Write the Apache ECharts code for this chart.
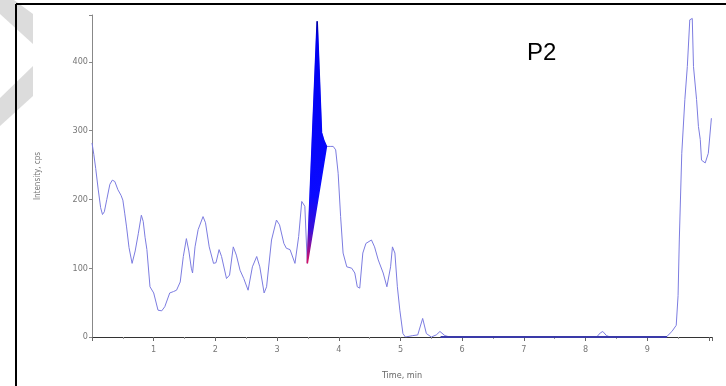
<!DOCTYPE html>
<html>
<head>
<meta charset="utf-8">
<script src="https://cdn.jsdelivr.net/npm/echarts@6/dist/echarts.min.js"></script>
<style>
  html, body { margin: 0; padding: 0; background: #fff; }
  #chart { width: 726px; height: 386px; }
</style>
</head>
<body>
<div id="chart"></div>
<script>
// chromatogram trace (time in min, intensity in cps)
const timeMin = [
  0.00, 0.03, 0.06, 0.10, 0.14, 0.17, 0.20, 0.24, 0.29, 0.33, 0.37, 0.42, 0.47, 0.50,
  0.53, 0.56, 0.60, 0.65, 0.70, 0.75, 0.80, 0.83, 0.86, 0.89, 0.94, 1.00, 1.07, 1.13,
  1.18, 1.26, 1.32, 1.37, 1.43, 1.48, 1.53, 1.57, 1.61, 1.63, 1.67, 1.72, 1.80, 1.84,
  1.90, 1.97, 2.01, 2.06, 2.10, 2.18, 2.23, 2.29, 2.34, 2.40, 2.46, 2.53, 2.60, 2.67,
  2.72, 2.79, 2.83, 2.91, 2.99, 3.04, 3.11, 3.15, 3.21, 3.29, 3.35, 3.40, 3.45, 3.49,
  3.53, 3.57, 3.61, 3.65, 3.68, 3.70, 3.72, 3.76, 3.80, 3.86, 3.91, 3.95, 3.99, 4.03,
  4.07, 4.13, 4.21, 4.26, 4.30, 4.34, 4.39, 4.44, 4.53, 4.58, 4.64, 4.72, 4.78, 4.84,
  4.87, 4.91, 4.95, 4.99, 5.04, 5.08, 5.20, 5.28, 5.36, 5.42, 5.50, 5.58, 5.64, 5.72,
  5.80, 8.18, 8.24, 8.28, 8.34, 8.40, 9.31, 9.40, 9.47, 9.50, 9.52, 9.56, 9.61, 9.65,
  9.69, 9.73, 9.75, 9.80, 9.83, 9.86, 9.88, 9.94, 9.99, 10.04
];
const intensity = [
  282, 265, 245, 215, 188, 178, 182, 200, 222, 228, 226, 214, 206, 199,
  180, 160, 130, 107, 125, 150, 177, 168, 145, 127, 73, 64, 39, 38,
  44, 64, 66, 68, 80, 117, 143, 125, 100, 93, 131, 156, 175, 166,
  131, 107, 108, 127, 117, 85, 90, 131, 119, 97, 85, 68, 102, 117,
  102, 64, 73, 141, 170, 163, 136, 129, 127, 107, 146, 197, 190, 107,
  195, 283, 371, 459, 390, 343, 297, 285, 277, 277, 277, 272, 238, 175,
  122, 102, 100, 93, 73, 71, 122, 136, 141, 131, 112, 93, 73, 102,
  131, 122, 73, 39, 5, 0, 2, 3, 27, 5, 0, 3, 8, 2,
  0, 0, 6, 8, 2, 0, 0, 8, 17, 60, 141, 267, 345, 393,
  461, 463, 393, 345, 306, 287, 257, 253, 267, 318
];

// integrated peak (filled between curve and sloped baseline)
const peakTime = [3.49, 3.53, 3.57, 3.61, 3.65, 3.68, 3.70, 3.72, 3.76, 3.80];
const peakIntensity = [107, 195, 283, 371, 459, 390, 343, 297, 285, 277];

// flat baseline drawn along the axis
const baseTime = [5.65, 9.32];
const baseIntensity = [0, 0];

const yTicks = [0, 100, 200, 300, 400];
const xTicks = [1, 2, 3, 4, 5, 6, 7, 8, 9];

const chart = echarts.init(document.getElementById('chart'));

const labelFont = 'Liberation Sans Narrow, Arial Narrow, DejaVu Sans Condensed, sans-serif';

const peakFill = () => new echarts.graphic.LinearGradient(0, 0, 0, 1, [
  { offset: 0, color: '#00009a' },
  { offset: 0.08, color: '#0000f0' },
  { offset: 0.72, color: '#0a0aff' },
  { offset: 0.86, color: '#3a10d8' },
  { offset: 1, color: '#e0105a' }
]);

chart.setOption({
  animation: false,
  backgroundColor: '#fff',
  grid: { left: 92, top: 15, right: 14, bottom: 49 },
  xAxis: {
    type: 'value',
    min: 0,
    max: 10.05,
    interval: 1,
    name: 'Time, min',
    nameLocation: 'middle',
    nameGap: 34,
    nameTextStyle: { color: '#666', fontSize: 9, fontFamily: labelFont },
    axisLine: { lineStyle: { color: '#333', width: 1 } },
    axisTick: { length: 4, lineStyle: { color: '#666' } },
    minorTick: { show: true, splitNumber: 2, length: 2, lineStyle: { color: '#999' } },
    splitLine: { show: false },
    axisLabel: {
      color: '#777',
      fontSize: 9,
      fontFamily: labelFont,
      margin: 8,
      formatter: v => (xTicks.includes(v) ? String(v) : '')
    }
  },
  yAxis: {
    type: 'value',
    min: 0,
    max: 468,
    interval: 100,
    name: 'Intensity, cps',
    nameLocation: 'middle',
    nameGap: 50,
    nameTextStyle: { color: '#777', fontSize: 8, fontFamily: labelFont },
    axisLine: { show: true, lineStyle: { color: '#888', width: 1 } },
    axisTick: { show: true, length: 3, lineStyle: { color: '#888' } },
    splitLine: { show: false },
    axisLabel: {
      color: '#777',
      fontSize: 9,
      fontFamily: labelFont,
      margin: 4,
      formatter: v => (yTicks.includes(v) ? String(v) : '')
    }
  },
  series: [
    {
      type: 'custom',
      z: 3,
      data: peakTime.map((t, i) => [t, peakIntensity[i]]),
      renderItem: (params, api) => {
        if (params.dataIndex !== 0) return null;
        const pts = peakTime.map((t, i) => api.coord([t, peakIntensity[i]]));
        return {
          type: 'polygon',
          shape: { points: pts },
          style: { fill: peakFill(), stroke: peakFill(), lineWidth: 1.5 }
        };
      }
    },
    {
      type: 'line',
      z: 2,
      symbol: 'none',
      data: timeMin.map((t, i) => [t, intensity[i]]),
      lineStyle: { color: '#7c7ce0', width: 1 }
    },
    {
      type: 'line',
      z: 4,
      symbol: 'none',
      data: baseTime.map((t, i) => [t, baseIntensity[i]]),
      lineStyle: { color: '#3a3aa8', width: 2 }
    }
  ],
  graphic: [
    { type: 'polygon', z: -1, shape: { points: [[0, 0], [14, 0], [33, 14], [33, 44], [0, 14]] }, style: { fill: '#dcdcdc' } },
    { type: 'polygon', z: -1, shape: { points: [[33, 66], [33, 96], [0, 126], [0, 98]] }, style: { fill: '#dcdcdc' } },
    { type: 'line', shape: { x1: 16, y1: 4, x2: 726, y2: 4 }, style: { stroke: '#000', lineWidth: 2 } },
    { type: 'line', shape: { x1: 16, y1: 4, x2: 16, y2: 386 }, style: { stroke: '#000', lineWidth: 2 } },
    {
      type: 'text',
      left: 527,
      top: 41,
      style: { text: 'P2', fill: '#000', font: '24px Liberation Sans, Arial, sans-serif' }
    }
  ]
});
</script>
</body>
</html>
